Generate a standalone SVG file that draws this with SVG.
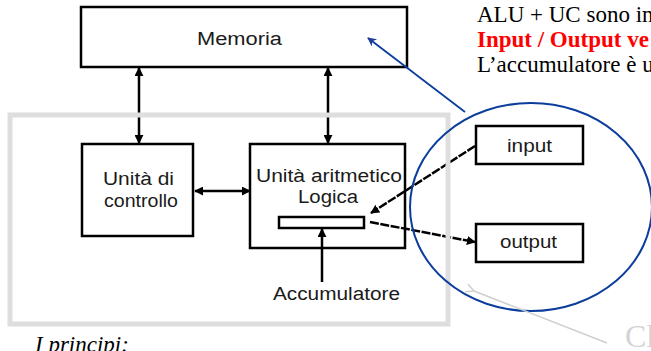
<svg xmlns="http://www.w3.org/2000/svg" width="651" height="351" viewBox="0 0 651 351">
<defs>
<style>
.box{fill:#fff;stroke:#000;stroke-width:2.5}
.lbl{font-family:"Liberation Sans",Arial,sans-serif;font-size:18px;fill:#1a1a1a}
.conn{stroke:#000;stroke-width:2.5;fill:none}
.dash{stroke-dasharray:9 1.5}
.note{font-family:"Liberation Serif","Times New Roman",serif;font-size:23px}
</style>
<marker id="ah" viewBox="0 0 10 10" refX="9" refY="5" markerWidth="9" markerHeight="9" markerUnits="userSpaceOnUse" orient="auto-start-reverse">
<path d="M0,0 L10,5 L0,10 Z" fill="#000"/>
</marker>
<marker id="bh" viewBox="0 0 10 10" refX="9" refY="5" markerWidth="11" markerHeight="9" markerUnits="userSpaceOnUse" orient="auto">
<path d="M0,0 L10,5 L0,10 L3,5 Z" fill="#1f3c99"/>
</marker>
<marker id="gh" viewBox="0 0 10 10" refX="1" refY="5" markerWidth="12" markerHeight="10" markerUnits="userSpaceOnUse" orient="auto">
<path d="M9,1 L1,5 L9,9" fill="none" stroke="#cfcfcf" stroke-width="1.5"/>
</marker>
</defs>
<rect width="651" height="351" fill="#fff"/>

<g id="memoria">
<rect class="box" x="81" y="7" width="326" height="60"/>
<text class="lbl" x="197" y="45" textLength="85" lengthAdjust="spacingAndGlyphs">Memoria</text>
</g>

<g id="controllo">
<rect class="box" x="82" y="144" width="111" height="92"/>
<text class="lbl" x="103" y="185" textLength="71" lengthAdjust="spacingAndGlyphs">Unità di</text>
<text class="lbl" x="104" y="207" textLength="74" lengthAdjust="spacingAndGlyphs">controllo</text>
</g>

<g id="alu">
<rect class="box" x="250" y="144" width="155" height="104"/>
<text class="lbl" x="256" y="182" textLength="146" lengthAdjust="spacingAndGlyphs">Unità aritmetico</text>
<text class="lbl" x="298" y="203" textLength="60" lengthAdjust="spacingAndGlyphs">Logica</text>
<rect class="box" x="279" y="217" width="85" height="11"/>
</g>

<g id="accumulatore">
<text class="lbl" x="273" y="300" textLength="127" lengthAdjust="spacingAndGlyphs">Accumulatore</text>
</g>

<g id="input">
<rect class="box" x="476" y="126" width="107" height="38"/>
<text class="lbl" x="507" y="152" textLength="45" lengthAdjust="spacingAndGlyphs">input</text>
</g>

<g id="output">
<rect class="box" x="476" y="224" width="107" height="38"/>
<text class="lbl" x="500" y="248" textLength="57" lengthAdjust="spacingAndGlyphs">output</text>
</g>

<g id="connectors">
<line class="conn" x1="139" y1="68" x2="139" y2="143" marker-start="url(#ah)" marker-end="url(#ah)"/>
<line class="conn" x1="328" y1="68" x2="328" y2="143" marker-start="url(#ah)" marker-end="url(#ah)"/>
<line class="conn" x1="195" y1="191" x2="250" y2="191" marker-start="url(#ah)" marker-end="url(#ah)"/>
<line class="conn" x1="322" y1="282" x2="322" y2="229" marker-end="url(#ah)"/>
<line class="conn dash" x1="475" y1="146" x2="371" y2="213" marker-end="url(#ah)"/>
<line class="conn dash" x1="370" y1="222" x2="475" y2="242" marker-end="url(#ah)"/>
</g>

<g id="frame">
<rect x="10" y="115" width="438" height="209" fill="none" stroke="#dedede" stroke-width="5"/>
</g>

<g id="callout">
<ellipse cx="531" cy="207" rx="121" ry="104" fill="none" stroke="#0b3d9c" stroke-width="2"/>
<line x1="465" y1="112" x2="368" y2="38" stroke="#0b3d9c" stroke-width="1.8" marker-end="url(#bh)"/>
<line x1="607" y1="343" x2="474" y2="291" stroke="#cfcfcf" stroke-width="1.5" marker-end="url(#gh)"/>
</g>

<g id="notes">
<text class="note" x="477" y="22" fill="#000">ALU + UC sono in</text>
<text class="note" x="477" y="47" fill="#ff0000" font-weight="bold">Input / Output ve</text>
<text class="note" x="477" y="72" fill="#000">L’accumulatore è u</text>
<text class="note" x="35" y="352" font-style="italic" fill="#000">I principi:</text>
<text x="625" y="347" font-family="'Liberation Serif','Times New Roman',serif" font-size="32" fill="#d4d4d4">Cl</text>
</g>
</svg>
